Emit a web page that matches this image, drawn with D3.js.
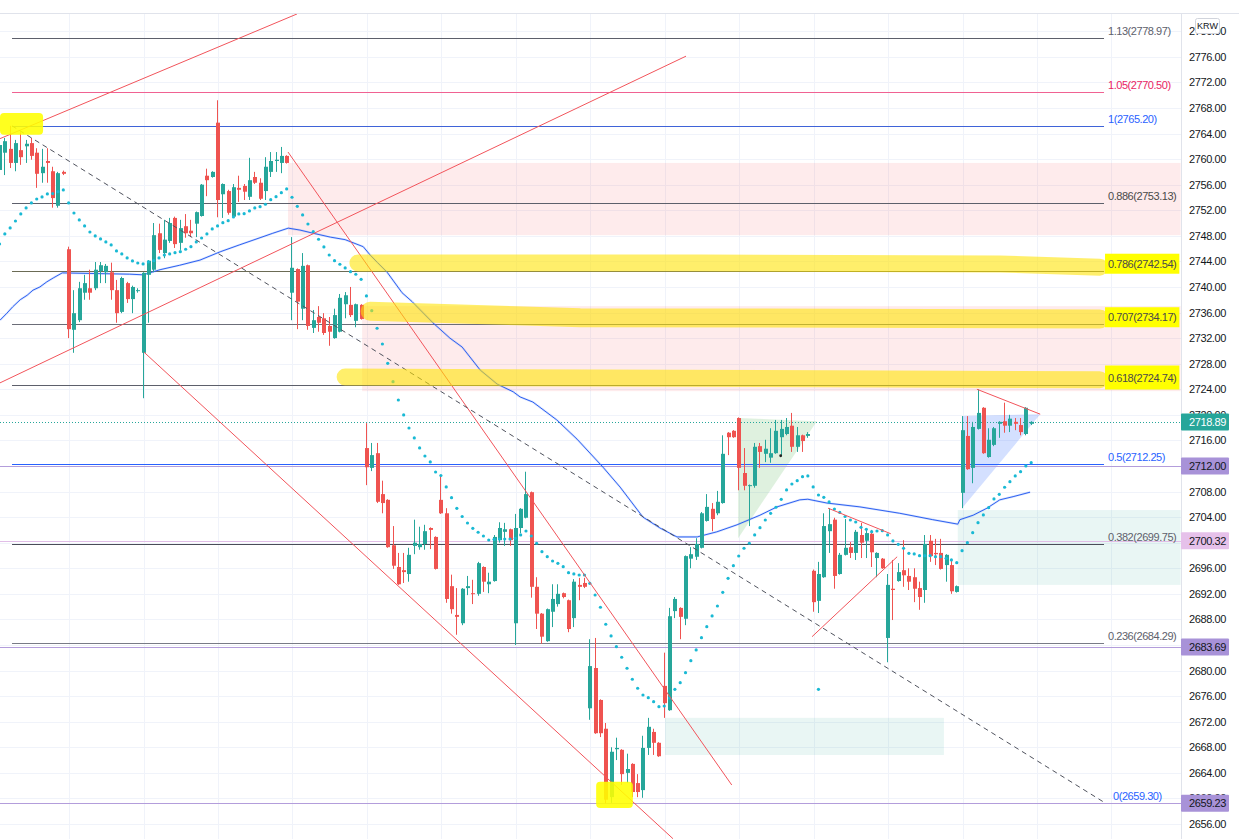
<!DOCTYPE html>
<html><head><meta charset="utf-8">
<script src="https://cdn.jsdelivr.net/npm/d3@7"></script>
<style>body{margin:0;background:#fff;} svg{display:block;font-family:"Liberation Sans",Arial,sans-serif;}</style>
</head><body><svg id="c" width="1239" height="839"></svg>
<script>
// ---------- DATA ----------
// OHLC candles, one per bar index (0..194)
const candles = [
[2758.3,2763.0,2757.5,2762.2],[2761.0,2763.3,2757.5,2762.8],[2761.6,2765.2,2758.6,2759.4],[2759.4,2763.0,2758.1,2762.5],[2761.4,2764.2,2759.1,2760.3],
[2762.0,2763.0,2759.4,2762.4],[2762.5,2763.3,2759.9,2760.5],[2761.0,2761.7,2755.5,2757.7],[2757.8,2761.6,2756.3,2758.8],[2759.7,2761.7,2756.3,2759.4],
[2758.1,2758.8,2752.4,2753.9],[2752.7,2758.0,2752.4,2757.8],[2758.0,2758.2,2757.5,2757.7],[2745.9,2746.3,2732.0,2733.4],[2733.3,2739.5,2729.7,2735.9],
[2734.8,2740.8,2734.5,2739.8],[2739.1,2741.9,2738.0,2740.6],[2739.8,2742.7,2738.0,2739.1],[2739.8,2743.9,2739.5,2742.7],[2742.5,2743.9,2740.6,2743.4],
[2742.3,2743.6,2740.6,2743.3],[2742.3,2743.8,2738.0,2739.5],[2739.5,2741.1,2734.4,2735.9],[2736.1,2741.6,2735.9,2741.4],[2740.6,2740.8,2737.5,2738.1],
[2738.1,2740.2,2735.9,2740.0],[2739.4,2739.8,2739.1,2739.5],[2729.7,2742.3,2722.6,2742.2],[2741.9,2744.2,2734.4,2744.1],[2742.7,2750.0,2742.3,2748.1],
[2748.4,2749.9,2745.3,2745.8],[2745.3,2750.5,2744.5,2747.4],[2747.2,2750.8,2746.9,2750.0],[2750.8,2751.0,2746.1,2746.7],[2746.9,2750.5,2745.8,2749.2],
[2749.5,2751.4,2747.7,2748.4],[2748.8,2750.5,2747.8,2748.4],[2749.9,2751.8,2747.8,2751.7],[2751.1,2756.1,2751.0,2756.0],[2757.4,2758.5,2754.2,2756.7],
[2757.2,2758.1,2757.1,2758.0],[2765.7,2769.2,2750.9,2753.6],[2754.5,2756.2,2750.8,2756.1],[2755.0,2755.2,2751.3,2751.6],[2751.0,2756.1,2750.8,2755.6],
[2755.5,2757.4,2753.3,2755.2],[2755.8,2756.1,2753.6,2754.9],[2754.1,2760.2,2753.6,2756.7],[2757.2,2758.0,2756.1,2756.3],[2756.3,2757.0,2753.6,2753.8],
[2755.0,2760.3,2753.6,2758.8],[2758.0,2761.1,2757.2,2759.7],[2759.7,2761.1,2758.0,2759.9],[2759.4,2761.9,2757.8,2760.5],[2760.5,2760.6,2759.3,2759.4],
[2739.1,2747.8,2734.8,2743.0],[2742.8,2742.9,2733.4,2737.7],[2736.6,2745.3,2734.8,2743.3],[2743.4,2743.5,2733.3,2733.9],[2733.6,2736.4,2732.8,2734.8],
[2735.3,2737.0,2733.0,2734.4],[2735.1,2735.9,2732.5,2732.8],[2733.9,2735.3,2730.8,2733.0],[2732.0,2736.6,2731.9,2735.6],[2733.0,2738.9,2732.9,2738.3],
[2737.3,2739.2,2735.1,2738.7],[2737.2,2740.0,2735.3,2735.6],[2734.7,2737.4,2733.7,2737.3],[2737.2,2737.3,2734.9,2735.0],[2714.8,2718.7,2709.0,2711.8],
[2711.7,2715.6,2711.2,2713.7],[2714.0,2715.6,2706.2,2706.4],[2707.6,2709.7,2704.6,2706.2],[2706.7,2706.8,2699.2,2699.3],[2699.6,2702.6,2695.9,2696.4],
[2696.2,2698.4,2693.4,2693.5],[2695.7,2698.4,2693.7,2695.4],[2695.1,2699.2,2693.9,2698.1],[2699.5,2703.6,2698.2,2700.0],[2699.3,2702.5,2698.9,2699.8],
[2699.8,2702.8,2698.9,2701.8],[2702.3,2702.4,2699.0,2702.0],[2700.9,2701.0,2695.8,2695.9],[2706.7,2710.6,2704.5,2704.6],[2704.6,2705.4,2690.6,2691.2],
[2693.2,2695.0,2688.9,2689.6],[2688.7,2692.9,2685.6,2688.4],[2687.4,2692.9,2687.1,2692.8],[2692.9,2694.8,2691.8,2693.2],[2692.1,2694.2,2690.4,2692.0],
[2692.0,2697.0,2691.7,2696.8],[2696.2,2696.3,2692.3,2693.9],[2693.5,2695.3,2692.1,2693.9],[2694.0,2701.2,2693.9,2700.9],[2700.4,2703.2,2700.0,2702.3],
[2701.7,2703.1,2699.5,2702.1],[2702.1,2702.2,2699.5,2700.4],[2687.4,2704.5,2684.0,2702.3],[2702.3,2705.4,2701.5,2705.3],[2703.9,2711.1,2703.8,2707.6],
[2707.9,2708.0,2691.4,2693.1],[2693.1,2694.6,2686.5,2688.9],[2688.9,2689.0,2684.2,2685.3],[2684.6,2689.7,2684.5,2689.6],[2689.2,2693.5,2686.8,2691.2],
[2690.4,2693.5,2690.0,2692.0],[2692.1,2692.2,2691.3,2691.5],[2691.0,2691.1,2686.0,2686.5],[2688.2,2694.3,2686.8,2693.9],[2693.4,2694.5,2691.0,2693.1],
[2693.7,2694.5,2692.9,2693.1],[2674.1,2684.9,2672.3,2680.7],[2680.4,2685.1,2670.1,2670.2],[2675.4,2675.5,2669.6,2670.2],[2670.9,2671.8,2659.23,2659.8],
[2660.2,2668.0,2659.3,2667.3],[2667.7,2669.5,2666.0,2667.9],[2667.6,2667.7,2662.1,2663.8],[2664.0,2667.0,2662.4,2664.6],[2665.4,2665.5,2660.2,2661.0],
[2662.4,2663.8,2660.2,2661.0],[2661.3,2669.8,2660.1,2667.9],[2667.9,2672.6,2666.8,2671.2],[2670.4,2670.9,2666.8,2668.7],[2668.7,2668.8,2666.5,2666.6],
[2677.6,2682.8,2672.6,2674.9],[2673.8,2689.8,2673.7,2688.5],[2689.3,2691.5,2688.2,2691.2],[2689.8,2689.9,2684.9,2688.4],[2688.1,2698.0,2687.1,2697.9],
[2697.5,2699.3,2696.0,2698.2],[2697.8,2700.7,2697.3,2699.8],[2699.2,2704.8,2699.1,2704.6],[2703.4,2707.6,2703.3,2705.6],[2705.3,2706.2,2701.8,2703.7],
[2704.6,2708.1,2704.3,2706.4],[2706.2,2716.8,2706.1,2713.9],[2717.2,2717.3,2713.7,2716.5],[2717.5,2717.6,2716.4,2716.5],[2719.5,2719.6,2708.2,2711.7],
[2710.9,2714.8,2708.2,2708.9],[2708.9,2709.1,2702.6,2709.0],[2708.9,2715.6,2708.6,2715.0],[2715.1,2715.6,2711.7,2714.2],[2713.9,2716.1,2712.6,2714.7],
[2713.3,2717.9,2712.5,2714.0],[2714.0,2719.2,2713.9,2717.5],[2716.5,2719.2,2713.7,2717.8],[2717.0,2719.5,2716.8,2718.1],[2718.3,2720.3,2714.2,2715.0],
[2715.0,2718.1,2714.2,2716.8],[2716.8,2716.9,2714.2,2715.9],[2716.7,2717.3,2716.4,2717.0],[2695.6,2695.8,2689.2,2690.7],[2690.9,2697.0,2689.0,2695.1],
[2694.6,2704.6,2694.5,2702.6],[2701.8,2705.4,2698.4,2702.9],[2703.6,2703.9,2692.8,2694.8],[2695.1,2698.4,2695.0,2698.1],[2698.1,2703.7,2698.0,2699.2],
[2699.3,2700.1,2697.6,2698.4],[2698.4,2702.0,2697.3,2701.7],[2701.2,2703.1,2697.6,2700.0],[2700.3,2702.0,2697.6,2701.5],[2701.4,2702.0,2696.2,2698.5],
[2697.6,2698.5,2694.6,2698.4],[2697.5,2697.6,2695.9,2696.0],[2685.1,2695.1,2681.3,2693.4],[2692.8,2697.3,2687.9,2692.6],[2694.0,2696.8,2693.9,2695.4],
[2695.7,2700.4,2693.1,2694.9],[2694.8,2696.0,2692.6,2693.9],[2694.6,2696.0,2690.7,2692.8],[2692.9,2693.9,2689.5,2691.5],[2692.6,2701.2,2690.6,2699.8],
[2700.3,2701.2,2697.0,2697.9],[2698.4,2700.6,2696.5,2698.2],[2698.4,2700.6,2695.8,2695.9],[2696.5,2698.2,2693.9,2698.1],[2696.5,2697.3,2692.0,2692.4],
[2692.3,2693.3,2692.2,2693.2],[2707.8,2719.8,2705.4,2717.6],[2716.7,2719.8,2711.4,2711.5],[2711.7,2718.9,2709.3,2718.1],[2717.8,2724.0,2717.7,2720.3],
[2721.1,2721.2,2713.9,2714.0],[2713.4,2717.9,2713.3,2716.1],[2715.3,2718.1,2715.1,2717.9],[2718.6,2719.0,2716.4,2718.9],[2719.0,2721.9,2717.2,2718.3],
[2718.3,2720.0,2717.3,2719.4],[2718.9,2719.5,2717.6,2718.6],[2718.4,2719.5,2716.8,2717.3],[2717.0,2721.2,2716.8,2721.1],[2718.6,2719.0,2718.4,2718.89]
];

// Parabolic SAR value per bar index
const sar = [
2746.73,2748.29,2749.23,2750.32,2751.42,2752.36,2753.14,2753.76,2754.08,2754.55,
2754.6,2754.91,2755.17,2753.14,2751.57,2750.48,2749.54,2748.60,2747.98,2747.51,
2747.04,2746.57,2745.63,2745.16,2744.54,2744.07,2743.75,2743.60,2743.91,2744.11,
2744.54,2745.00,2745.16,2745.36,2745.52,2745.90,2746.30,2747.04,2747.66,2748.29,
2749.07,2749.54,2750.06,2750.37,2750.95,2751.42,2751.47,2751.89,2752.36,2752.56,
2752.94,2753.66,2754.12,2754.75,2755.33,2754.03,2752.62,2751.26,2749.85,2748.65,
2747.46,2746.26,2745.00,2744.11,2743.55,2742.97,2742.39,2741.99,2741.20,2738.59,
2736.29,2733.54,2731.08,2728.06,2725.19,2722.32,2719.98,2717.94,2716.38,2714.82,
2713.56,2712.63,2711.06,2710.51,2708.72,2707.04,2705.38,2704.10,2703.08,2702.25,
2701.63,2701.05,2700.42,2700.53,2700.58,2700.58,2700.58,2700.69,2701.21,2701.83,
2701.05,2699.91,2698.59,2697.81,2697.14,2696.78,2696.25,2695.31,2695.11,2694.95,
2694.95,2693.65,2691.82,2689.90,2687.24,2685.41,2683.73,2682.08,2680.36,2678.64,
2677.23,2676.18,2675.76,2675.13,2674.35,2674.46,2675.71,2677.07,2678.10,2679.67,
2681.54,2683.22,2685.14,2686.86,2688.54,2690.10,2692.24,2694.43,2696.40,2697.92,
2699.13,2699.91,2701.21,2702.35,2703.55,2704.60,2705.54,2706.79,2708.25,2709.18,
2709.70,2710.33,2710.44,2708.72,2707.46,2707.10,2706.37,2705.27,2704.73,2704.10,
2703.55,2703.24,2702.41,2702.10,2701.72,2701.83,2701.88,2701.21,2700.27,2699.75,
2699.13,2698.34,2698.24,2697.97,2697.97,2697.97,2697.81,2697.81,2697.56,2697.30,
2696.87,2698.75,2700.00,2701.57,2703.13,2704.34,2705.48,2706.84,2707.57,2708.67,
2709.54,2710.44,2711.11,2712.00,2712.52
];
const sarExtra = [[154, 2677.07]];
const blackDot = [[146.8, 2713.6]];

// blue moving-average line: [bar index, price]
const maLine = [
[0,2734.8],[1.3,2735.9],[2.4,2736.9],[3.8,2738.0],[5.1,2738.7],[6.2,2739.5],[7.5,2740.0],[8.8,2740.8],[10,2741.4],[11.7,2742.2],
[24.4,2742.0],[26.9,2741.9],[30.1,2742.7],[33.8,2743.4],[37.6,2744.2],[41.4,2745.5],[45.1,2746.6],[48.9,2747.7],[51.3,2748.4],[54.2,2749.2],
[56.4,2748.9],[58.9,2748.4],[62.1,2747.8],[64.9,2747.4],[68.3,2746.3],[69.6,2745.0],[71,2743.8],[72.8,2742.3],[75.6,2739.1],[77.5,2737.7],
[81.4,2734.4],[84.6,2732.0],[86.9,2730.6],[90.3,2727.0],[93.5,2724.8],[96.5,2723.6],[97.8,2722.8],[100.2,2722.0],[104.7,2719.2],[108.5,2716.2],
[113.4,2711.8],[116.6,2708.7],[120.9,2704.0],[124.1,2702.3],[127.3,2700.9],[131.1,2700.9],[134.8,2701.7],[138.6,2702.8],[142.9,2704.3],[146.1,2705.6],
[150.4,2706.7],[151.9,2706.8],[155.5,2706.2],[161.7,2705.6],[169.2,2704.6],[175.4,2703.6],[180.1,2702.9],[180.5,2703.6],[183,2704.3],[185.6,2705.4],
[188,2706.7],[190.5,2707.2],[193.7,2707.9]
];

// price axis ticks
const priceTicks = d3.range(2656, 2784, 4);

// Fibonacci retracement
const fibRatios = [1.13, 1.05, 1, 0.886, 0.786, 0.707, 0.618, 0.5, 0.382, 0.236, 0];
const fibPrices = [2778.97, 2770.50, 2765.20, 2753.13, 2742.54, 2734.17, 2724.74, 2712.25, 2699.75, 2684.29, 2659.30];
const fibLineColors = ['#5d606b','#f06292','#3f63d8','#5d606b','#6b6b55','#6b6d78','#5d606b','#2962ff','#4a4d58','#787b86','#2962ff'];
const fibTextColors = ['#5d606b','#e91e63','#2962ff','#4a4a4a','#4a4a4a','#4a4a4a','#4a4a4a','#2962ff','#5d606b','#5d606b','#2962ff'];
const fibHighlighted = [0.786, 0.707, 0.618];
const fibSpan = [2.26, 207.6];

// horizontal price lines with axis badges
const priceLines = [2712.00, 2700.32, 2683.69, 2659.23];
const priceLineColors = ['#b39ddb', '#e1bee7', '#b39ddb', '#b39ddb'];
const priceBadgeColors = ['#a892d8', '#e6c1ea', '#a892d8', '#a892d8'];
const lastPrice = 2718.89;

// zones [startIdx, endIdx, topPrice, bottomPrice]
const pinkZones = [[54.16, 222, 2759.4, 2748.1], [68.1, 222, 2737.0, 2723.7]];
const greenZones = [[180.1, 222, 2705.1, 2693.4], [125.05, 177.5, 2672.6, 2666.8]];
const greenTriangle = [[138.8, 2719.5], [153.6, 2719.0], [138.8, 2700.7]];
const blueTriangle = [[180.9, 2719.8], [195.6, 2720.1], [180.9, 2705.4]];

// trend lines
const redLines = [
 [[0, 2763.2], [55.85, 2782.7]],
 [[0, 2725.0], [129.0, 2776.1]],
 [[27.08, 2729.8], [126.55, 2653.7]],
 [[54.16, 2761.1], [137.6, 2662.1]],
 [[183.7, 2724.0], [195.6, 2720.1]],
 [[155.7, 2705.4], [167.5, 2701.4]],
 [[152.7, 2685.3], [168.7, 2697.8]]
];
const dashedLine = [[2.26, 2765.2], [207.8, 2659.3]];

// yellow marker highlights
const markerBands = [
 [[67.3, 2743.75], [131.6, 2743.75], [188.0, 2743.6], [206.8, 2743.1]],
 [[69.6, 2736.2], [109.1, 2735.2], [206.8, 2735.0]],
 [[64.9, 2725.9], [206.8, 2725.5]]
];
const markerPatches = [[0, 8.1, 2767.2, 2763.8], [112.1, 119.0, 2662.6, 2658.5]];

// ---------- DRAW ----------
const W = 1239, H = 839, PR = 1181, PT = 13;
const svg = d3.select('#c');
const x = d3.scaleLinear().domain([0, 222]).range([0, 1180.6]);
const y = d3.scaleLinear().domain([2656, 2776]).range([824, 56.8]);

svg.append('rect').attr('width', W).attr('height', H).attr('fill', '#fff');
svg.append('defs').append('clipPath').attr('id', 'plot')
  .append('rect').attr('x', 0).attr('y', PT).attr('width', PR).attr('height', H - PT);
const g = svg.append('g').attr('clip-path', 'url(#plot)');

// grid
g.append('g').selectAll('line').data(priceTicks).join('line')
  .attr('x1', 0).attr('x2', PR)
  .attr('y1', d => Math.round(y(d)) + 0.5).attr('y2', d => Math.round(y(d)) + 0.5)
  .attr('stroke', '#f0f3fa');
g.append('g').selectAll('line').data(d3.range(13, 222, 14)).join('line')
  .attr('y1', PT).attr('y2', H)
  .attr('x1', d => Math.round(x(d)) + 0.5).attr('x2', d => Math.round(x(d)) + 0.5)
  .attr('stroke', '#f0f3fa');

// zones
const zoneRect = (sel, data, fill) => sel.selectAll(null).data(data).join('rect')
  .attr('x', d => x(d[0])).attr('width', d => x(d[1]) - x(d[0]))
  .attr('y', d => y(d[2])).attr('height', d => y(d[3]) - y(d[2]))
  .attr('fill', fill);
zoneRect(g.append('g'), pinkZones, 'rgba(242,54,69,0.10)');
zoneRect(g.append('g'), greenZones, 'rgba(8,153,129,0.09)');
const polyLine = d3.line().x(d => x(d[0])).y(d => y(d[1]));
g.append('path').attr('d', polyLine(greenTriangle) + 'Z').attr('fill', 'rgba(76,175,80,0.18)');
g.append('path').attr('d', polyLine(blueTriangle) + 'Z').attr('fill', 'rgba(41,98,255,0.2)');

// fib lines
fibPrices.forEach((p, i) => {
  const yy = Math.round(y(p)) + 0.5;
  g.append('line').attr('x1', x(fibSpan[0])).attr('x2', x(fibSpan[1]))
    .attr('y1', yy).attr('y2', yy).attr('stroke', fibLineColors[i]).attr('stroke-width', 1);
});
// horizontal price lines
priceLines.forEach((p, i) => {
  const yy = Math.round(y(p)) + 0.5;
  g.append('line').attr('x1', 0).attr('x2', PR).attr('y1', yy).attr('y2', yy)
    .attr('stroke', priceLineColors[i]).attr('stroke-width', 1);
});
// last price dotted line
g.append('line').attr('x1', 0).attr('x2', PR)
  .attr('y1', Math.round(y(lastPrice)) + 0.5).attr('y2', Math.round(y(lastPrice)) + 0.5)
  .attr('stroke', '#26a69a').attr('stroke-dasharray', '1,2');

// blue MA
g.append('path').attr('d', polyLine.curve(d3.curveLinear)(maLine)).attr('fill', 'none')
  .attr('stroke', 'rgba(41,98,255,0.18)').attr('stroke-width', 2.2);
g.append('path').attr('d', polyLine(maLine)).attr('fill', 'none')
  .attr('stroke', '#2f62f0').attr('stroke-width', 1);

// candles
const cg = g.append('g');
candles.forEach((c, i) => {
  const [o, h, l, cl] = c;
  const up = cl >= o;
  const col = up ? '#26a69a' : '#ef5350';
  const cx = Math.round(x(i));
  cg.append('line').attr('x1', cx - 0.5).attr('x2', cx - 0.5)
    .attr('y1', y(h)).attr('y2', y(l)).attr('stroke', col).attr('stroke-width', 1);
  const top = y(Math.max(o, cl)), bot = y(Math.min(o, cl));
  cg.append('rect').attr('x', cx - 2).attr('width', 4)
    .attr('y', top).attr('height', Math.max(1, bot - top)).attr('fill', col);
});

// SAR dots
const sg = g.append('g');
sg.selectAll('circle.s').data(sar).join('circle').attr('class', 's')
  .attr('cx', (d, i) => x(i) - 0.5).attr('cy', d => y(d)).attr('r', 1.6).attr('fill', '#19b9d4');
sg.selectAll('circle.e').data(sarExtra).join('circle').attr('class', 'e')
  .attr('cx', d => x(d[0]) - 0.5).attr('cy', d => y(d[1])).attr('r', 1.6).attr('fill', '#19b9d4');
sg.selectAll('circle.b').data(blackDot).join('circle').attr('class', 'b')
  .attr('cx', d => x(d[0])).attr('cy', d => y(d[1])).attr('r', 1.4).attr('fill', '#222');

// trend lines
g.append('g').selectAll('path').data(redLines).join('path')
  .attr('d', d => polyLine(d)).attr('stroke', '#f2545b').attr('stroke-width', 1).attr('fill', 'none');
g.append('path').attr('d', polyLine(dashedLine)).attr('stroke', '#50535e')
  .attr('stroke-width', 1).attr('stroke-dasharray', '5,4').attr('fill', 'none');

// marker highlights
const bandWidths = [17, 19, 17];
g.append('g').selectAll('path').data(markerBands).join('path')
  .attr('d', d => polyLine(d)).attr('fill', 'none')
  .attr('stroke', 'rgba(255,228,0,0.58)').attr('stroke-linecap', 'round').attr('stroke-linejoin', 'round')
  .attr('stroke-width', (d, i) => bandWidths[i]);
g.append('g').selectAll('rect').data(markerPatches).join('rect')
  .attr('x', d => x(d[0])).attr('width', d => x(d[1]) - x(d[0]))
  .attr('y', d => y(d[2])).attr('height', d => y(d[3]) - y(d[2]))
  .attr('rx', 4).attr('fill', 'rgba(255,255,0,0.88)');

// fib labels
const lg = svg.append('g');
fibPrices.forEach((p, i) => {
  const r = fibRatios[i];
  const lx = x(fibSpan[1]) + 4 + (r === 0 ? 5 : 0);
  const t = lg.append('text').attr('x', lx).attr('y', y(p) - 3)
    .attr('font-size', 11).attr('letter-spacing', '-0.45px')
    .attr('fill', fibTextColors[i]).text(`${r}(${p.toFixed(2)})`);
  if (fibHighlighted.includes(r)) {
    const b = t.node().getBBox();
    const padV = r === 0.618 ? 6 : 4;
    lg.insert('rect', 'text').attr('x', b.x - 3).attr('y', b.y - padV)
      .attr('width', b.width + 6).attr('height', b.height + padV * 2).attr('fill', '#ffff00');
  }
});

// right axis
svg.append('line').attr('x1', PR + 0.5).attr('x2', PR + 0.5).attr('y1', PT).attr('y2', H).attr('stroke', '#e0e3eb');
svg.append('line').attr('x1', 0).attr('x2', W).attr('y1', PT + 0.5).attr('y2', PT + 0.5).attr('stroke', '#e0e3eb');
const axis = svg.append('g').attr('transform', `translate(${PR},0)`)
  .call(d3.axisRight(y).tickValues(priceTicks).tickFormat(d3.format('.2f')).tickSize(0).tickPadding(8));
axis.select('.domain').remove();
axis.selectAll('text').attr('font-size', 11).attr('letter-spacing', '-0.4px').attr('fill', '#131722')
  .attr('font-family', '"Liberation Sans",Arial,sans-serif');

// badges
const badge = (p, fill, txtCol) => {
  const yy = y(p);
  svg.append('rect').attr('x', PR).attr('y', yy - 8.5).attr('width', 48).attr('height', 17).attr('rx', 1).attr('fill', fill);
  svg.append('text').attr('x', PR + 8).attr('y', yy + 4).attr('font-size', 11).attr('letter-spacing', '-0.4px')
    .attr('fill', txtCol).text(p.toFixed(2));
};
priceLines.forEach((p, i) => badge(p, priceBadgeColors[i], '#131722'));
badge(lastPrice, '#26a69a', '#ffffff');

// currency box
svg.append('rect').attr('x', 1195.5).attr('y', 18.5).attr('width', 24).attr('height', 15).attr('rx', 2)
  .attr('fill', '#fff').attr('stroke', '#d1d4dc');
svg.append('text').attr('x', 1207.5).attr('y', 29).attr('text-anchor', 'middle').attr('font-size', 9)
  .attr('fill', '#131722').text('KRW');
</script>
</body></html>
